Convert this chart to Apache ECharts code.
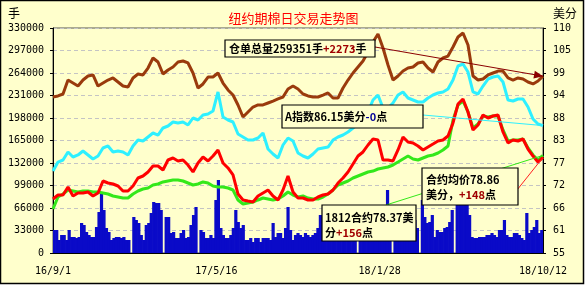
<!DOCTYPE html>
<html><head><meta charset="utf-8">
<script src="https://cdn.jsdelivr.net/npm/echarts@6/dist/echarts.min.js"></script>
<style>html,body{margin:0;padding:0;background:#fff}#c{width:587px;height:288px}</style>
</head><body><div id="c"></div>
<script>
// ---- axis / category info ----
const startDate = [2016, 8, 1];      // 16/9/1
const totalDays = 771;               // up to 18/10/12
const xLabelStepDays = 257;          // 16/9/1, 17/5/16, 18/1/28, 18/10/12
const leftMin = 0, leftMax = 330000, leftStep = 33000;
const rightMin = 55, rightMax = 110, rightStep = 5.5;
const titleText = '纽约期棉日交易走势图';

// ---- series values (evenly spaced over the date range) ----
// 仓单总量 (手, left axis)
const warrants = [228800,230300,233200,253700,249300,244900,253700,259600,261100,244900,
 249300,253700,256700,250800,244900,243500,256700,262500,261100,271300,
 286000,280100,262500,268400,272800,280100,281600,278700,264000,242000,
 247900,258100,258100,264000,249300,239100,231700,217100,199500,206800,
 214100,217100,217100,220000,222900,225900,228800,240500,244900,240500,
 233200,230300,228800,228800,231700,234700,227300,227300,242000,253700,
 264000,272800,281600,294800,309500,321200,300700,275700,253700,259600,
 266900,271300,272800,278700,280100,271300,265500,280100,286000,288900,
 302100,316800,322700,305100,259600,253700,255200,261100,264000,266900,
 266900,256700,253700,256700,255200,250800,247900,252300,259351];
// A指数 (美分, right axis)
const aIndex = [75.04,77.24,77.73,79.69,78.47,78.96,79.93,78.96,77.98,78.71,
 80.67,81.16,79.69,79.93,79.69,78.96,81.16,82.62,82.38,83.36,
 84.33,83.84,85.56,86.04,87.02,86.78,87.02,86.29,88.0,87.51,
 88.73,88.98,89.71,94.36,88.24,87.51,87.02,84.09,83.36,82.62,
 82.62,83.11,84.33,80.42,79.2,78.22,81.4,83.11,82.38,79.44,
 78.71,78.22,79.2,80.42,80.67,80.91,82.62,83.36,83.84,84.58,
 85.56,86.53,88.0,89.47,92.4,93.62,90.44,90.44,91.67,93.62,
 94.36,92.89,92.4,91.91,91.91,92.89,93.62,94.11,94.36,95.09,
 97.29,100.71,101.2,99.24,94.36,93.87,95.82,97.53,98.02,98.27,
 96.8,92.4,92.16,92.64,92.64,90.69,87.76,86.53,86.15];
// 主力合约 (1812, right axis)
const mainContract = [68.2,69.18,69.18,71.13,68.93,69.67,69.67,69.91,68.93,69.67,
 72.6,72.11,71.87,71.38,70.16,70.16,71.38,73.33,73.82,74.8,
 76.27,76.27,75.29,77.73,78.22,77.49,77.73,76.51,74.8,77.0,
 78.47,77.49,78.71,80.18,77.0,75.78,74.07,69.42,67.96,67.71,
 67.47,68.93,69.67,70.4,68.93,67.96,70.4,73.82,69.91,68.44,
 68.44,67.96,67.96,68.69,69.18,69.42,70.4,72.11,73.33,74.8,
 76.76,78.71,79.69,81.4,82.87,82.62,77.73,77.73,77.49,80.18,
 83.36,82.13,81.89,81.16,80.18,80.91,81.64,82.38,82.62,83.6,
 86.78,91.42,92.64,89.47,85.07,86.29,88.73,88.0,88.49,88.73,
 84.58,81.89,82.62,82.38,82.87,80.42,78.71,77.24,78.37];
// 合约均价 (right axis)
const avgPrice = [65.76,68.69,69.42,70.4,70.16,69.91,70.16,70.16,69.91,69.91,
 69.67,69.42,68.93,68.69,68.44,68.44,69.42,70.16,70.64,70.89,
 71.62,71.87,72.36,72.6,72.84,72.84,72.6,72.11,71.62,71.87,
 72.36,72.11,71.38,71.13,71.13,70.89,70.4,67.96,66.98,67.22,
 67.47,67.96,68.44,68.2,67.96,68.2,68.93,69.91,69.18,68.69,
 68.93,68.44,68.2,68.2,68.69,69.42,70.4,71.62,72.11,72.6,
 73.33,73.82,74.31,74.8,75.04,75.53,75.78,76.02,76.51,77.24,
 77.98,78.71,77.98,77.73,78.22,78.71,78.96,79.44,80.18,81.16,
 87.51,91.18,92.16,89.47,85.56,86.53,88.49,88.24,88.49,88.49,
 85.07,82.38,82.62,82.62,82.87,80.67,78.96,77.73,78.86];
// 成交量 (手, left axis)
const volume = [33700,33700,19100,26400,26400,19100,33700,23500,23500,22000,
 23500,44000,41100,30800,26400,23500,23500,38100,60100,88000,
 63100,36700,30800,19100,22000,23500,23500,22000,23500,19100,
 19100,0,52800,48400,44000,26400,19100,41100,44000,58700,
 74800,73300,73300,63100,0,52800,52800,29300,30800,22000,
 22000,29300,33700,22000,23500,41100,55700,67500,0,33700,
 30800,22000,22000,26400,22000,77700,107100,36700,26400,22000,
 22000,26400,36700,63100,45500,36700,41100,19100,19100,22000,
 16100,22000,22000,16100,22000,22000,22000,19100,44000,23500,
 29300,29300,22000,36700,67500,33700,19100,26400,29300,26400,
 23500,29300,26400,23500,26400,29300,36700,55700,33700,30800,
 36700,41100,29300,33700,45500,36700,30800,39600,48400,33700,
 41100,29300,0,36700,45500,33700,51300,60100,70400,55700,
 41100,33700,48400,36700,92400,41100,0,45500,36700,51300,
 41100,33700,48400,39600,55700,48400,36700,0,77700,52800,
 44000,45500,55700,23500,33700,30800,30800,36700,38100,45500,
 63100,0,80700,89500,77700,95300,80700,55700,23500,22000,
 22000,23500,23500,23500,26400,26400,29300,26400,23500,33700,
 33700,48400,26400,23500,23500,29300,29300,26400,22000,19100,
 58700,29300,33700,38100,48400,29300,33700];

// ---- annotation texts ----
const noteWarrant = ['仓单总量259351手', '+2273', '手'];
const noteIndex = ['A指数86.15美分', '-0', '点'];
const noteMain = ['1812合约78.37美', '分', '+156', '点'];
const noteAvg = ['合约均价78.86', '美分，', '+148', '点'];

const toPairs = arr => arr.map((v, i) => [i * totalDays / (arr.length - 1), v]);
const base = Date.UTC(startDate[0], startDate[1], startDate[2]);
const fmtDay = d => {
  const dt = new Date(base + Math.round(d) * 86400000);
  return (dt.getUTCFullYear() % 100) + '/' + (dt.getUTCMonth() + 1) + '/' + dt.getUTCDate();
};
const volCategories = volume.map((v, i) => fmtDay(i * totalDays / (volume.length - 1)));

const chart = echarts.init(document.getElementById('c'), null, {renderer: 'canvas', width: 587, height: 288});
const numFont = 'DejaVu Sans Mono';
const cjk = '"Noto Sans CJK SC"';

chart.setOption({
  animation: false,
  backgroundColor: '#FFFFCC',
  title: {text: titleText, left: 'center', top: 7,
    textStyle: {color: '#ff0000', fontSize: 13, fontWeight: 'normal', fontFamily: 'Noto Sans CJK SC'}},
  grid: {left: 53, right: 44, top: 28, bottom: 35, show: true, borderColor: '#555', borderWidth: 1, backgroundColor: 'transparent'},
  xAxis: [
    {type: 'value', min: 0, max: totalDays, interval: xLabelStepDays,
      axisLine: {show: true, lineStyle: {color: '#000'}}, axisTick: {show: false}, splitLine: {show: false},
      axisLabel: {formatter: fmtDay, color: '#000', fontSize: 10, fontFamily: numFont, margin: 13, showMinLabel: true, showMaxLabel: true}},
    {type: 'category', data: volCategories, boundaryGap: true, show: false, position: 'bottom'}
  ],
  yAxis: [
    {type: 'value', min: leftMin, max: leftMax, interval: leftStep, position: 'left',
      axisLine: {show: true, lineStyle: {color: '#000'}}, axisTick: {show: true, length: 3, lineStyle: {color: '#000'}},
      axisLabel: {color: '#000', fontSize: 10, fontFamily: numFont, margin: 9, formatter: v => String(Math.round(v))},
      splitLine: {show: true, lineStyle: {type: [4, 3], color: '#c4c4c4'}}},
    {type: 'value', min: rightMin, max: rightMax, interval: rightStep, position: 'right',
      axisLine: {show: true, lineStyle: {color: '#000'}}, axisTick: {show: true, length: 3, lineStyle: {color: '#000'}},
      axisLabel: {color: '#000', fontSize: 10, fontFamily: numFont, margin: 10, formatter: v => String(Math.round(v + 1e-6))},
      splitLine: {show: false}}
  ],
  series: [
    {name: '成交量', type: 'bar', xAxisIndex: 1, yAxisIndex: 0, data: volume, barWidth: 3.2,
      itemStyle: {color: '#0a0ac8'}, z: 2},
    {name: '合约均价', type: 'line', yAxisIndex: 1, data: toPairs(avgPrice), showSymbol: false,
      lineStyle: {width: 3, color: '#33e81a'}, itemStyle: {color: '#33e81a'}, z: 3},
    {name: '1812', type: 'line', yAxisIndex: 1, data: toPairs(mainContract), showSymbol: false,
      lineStyle: {width: 3, color: '#ff0000'}, itemStyle: {color: '#ff0000'}, z: 4},
    {name: 'A指数', type: 'line', yAxisIndex: 1, data: toPairs(aIndex), showSymbol: false,
      lineStyle: {width: 3, color: '#2ef0ff'}, itemStyle: {color: '#2ef0ff'}, z: 4},
    {name: '仓单', type: 'line', yAxisIndex: 0, data: toPairs(warrants), showSymbol: false,
      lineStyle: {width: 3, color: '#9a3a0c'}, itemStyle: {color: '#9a3a0c'}, z: 4}
  ]
});

// ---- annotations: leader lines end at the last data points ----
const last = a => a[a.length - 1];
const pW = chart.convertToPixel({xAxisIndex: 0, yAxisIndex: 0}, [totalDays, last(warrants)]);
const pA = chart.convertToPixel({xAxisIndex: 0, yAxisIndex: 1}, [totalDays, last(aIndex)]);
const pM = chart.convertToPixel({xAxisIndex: 0, yAxisIndex: 1}, [totalDays, last(mainContract)]);
const pG = chart.convertToPixel({xAxisIndex: 0, yAxisIndex: 1}, [totalDays, last(avgPrice)]);

const boldFont = 'bold 11px ' + cjk;
const rich = {
  r: {fill: '#a00000', font: boldFont},
  b: {fill: '#000099', font: boldFont}
};
const box = (x, y, w, h) => ({type: 'rect', shape: {x, y, width: w, height: h},
  style: {fill: '#FFFFCC', stroke: '#000', lineWidth: 1.2}, z: 100});
const txt = (x, y, text, va) => ({type: 'text', x, y,
  style: {text, fill: '#000', font: boldFont, rich, verticalAlign: va || 'middle', lineHeight: 15}, z: 101});
const seg = (x1, y1, x2, y2, c) => ({type: 'line', shape: {x1, y1, x2, y2}, style: {stroke: c, lineWidth: 1}, z: 99});

function arrowHead(x1, y1, x2, y2, len, half, color) {
  const dx = x2 - x1, dy = y2 - y1, L = Math.hypot(dx, dy), ux = dx / L, uy = dy / L;
  const bx = x2 - ux * len, by = y2 - uy * len;
  return {type: 'polygon', shape: {points: [[x2, y2], [bx - uy * half, by + ux * half], [bx + uy * half, by - ux * half]]},
    style: {fill: color}, z: 99};
}

const l1 = [375, 47], l2 = [423, 115], l3 = [386, 205], l4 = [517, 190];
chart.setOption({
  graphic: [
    {type: 'rect', shape: {x: 584, y: 0, width: 3, height: 288}, style: {fill: '#fff'}, z: 0},
    {type: 'rect', shape: {x: 0, y: 284, width: 587, height: 4}, style: {fill: '#fff'}, z: 0},
    {type: 'rect', shape: {x: 0.5, y: 0.5, width: 583, height: 283}, style: {fill: null, stroke: '#000', lineWidth: 1.5}, z: 50},
    {type: 'text', x: 8, y: 7, style: {text: '手', fill: '#000', font: '12px ' + cjk}, z: 50},
    {type: 'text', x: 553, y: 7, style: {text: '美分', fill: '#000', font: '12px ' + cjk}, z: 50},
    seg(l1[0], l1[1], pW[0], pW[1], '#8b0000'),
    arrowHead(l1[0], l1[1], pW[0], pW[1], 9, 4, '#8b0000'),
    seg(l2[0], l2[1], pA[0], pA[1], '#2ef0ff'),
    seg(l3[0], l3[1], pG[0], pG[1], '#33e81a'),
    seg(l4[0], l4[1], pM[0], pM[1], '#ff2020'),
    box(225, 40, 150, 17),
    txt(229, 49, noteWarrant[0] + '{r|' + noteWarrant[1] + '}' + noteWarrant[2]),
    box(282, 105, 141, 23),
    txt(285, 117, noteIndex[0] + '{b|' + noteIndex[1] + '}' + noteIndex[2]),
    box(322, 205, 94, 36),
    txt(325, 210, noteMain[0] + '\n' + noteMain[1] + '{r|' + noteMain[2] + '}' + noteMain[3], 'top'),
    box(422, 168, 96, 37),
    txt(426, 172, noteAvg[0] + '\n' + noteAvg[1] + '{r|' + noteAvg[2] + '}' + noteAvg[3], 'top')
  ]
});
</script></body></html>
